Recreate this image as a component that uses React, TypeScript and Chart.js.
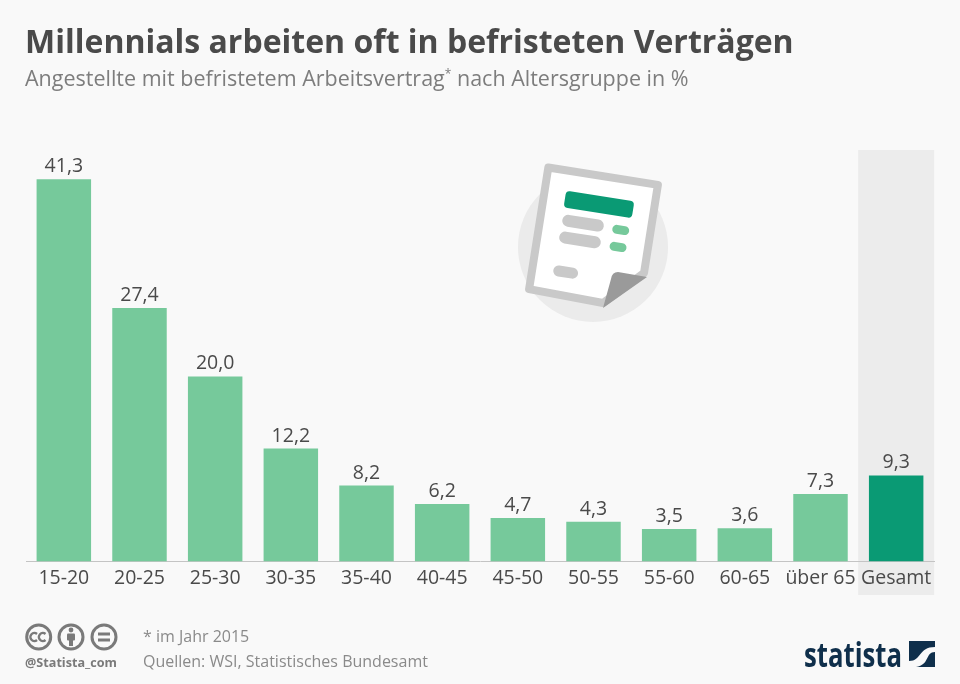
import React, { useEffect, useRef } from "react";
import { Chart, registerables } from "chart.js";

Chart.register(...registerables);

const categories = ["15-20", "20-25", "25-30", "30-35", "35-40", "40-45", "45-50", "50-55", "55-60", "60-65", "über 65", "Gesamt"];
const values = [41.3, 27.4, 20.0, 12.2, 8.2, 6.2, 4.7, 4.3, 3.5, 3.6, 7.3, 9.3];
const barColors = ["#76c99b", "#76c99b", "#76c99b", "#76c99b", "#76c99b", "#76c99b", "#76c99b", "#76c99b", "#76c99b", "#76c99b", "#76c99b", "#0a9a74"];
const titleText = "Millennials arbeiten oft in befristeten Verträgen";
const subtitleText = "Angestellte mit befristetem Arbeitsvertrag";
const subtitleTail = " nach Altersgruppe in %";
const noteText = "* im Jahr 2015";
const sourceText = "Quellen: WSI, Statistisches Bundesamt";
const handleText = "@Statista_com";
const brandText = "statista";
const FONT = '"Open Sans", sans-serif';

const highlight = {
  id: "highlight",
  beforeDraw(chart: any) {
    const { ctx, scales } = chart;
    const last = categories.length - 1;
    const cx = scales.x.getPixelForValue(last);
    ctx.save();
    ctx.fillStyle = "#ececec";
    ctx.fillRect(cx - 38, 150, 76, 445);
    ctx.restore();
  },
};

const valueLabels = {
  id: "valueLabels",
  afterDatasetsDraw(chart: any) {
    const { ctx } = chart;
    const meta = chart.getDatasetMeta(0);
    ctx.save();
    ctx.font = `19.5px ${FONT}`;
    ctx.fillStyle = "#4a4a4a";
    ctx.textAlign = "center";
    ctx.textBaseline = "alphabetic";
    meta.data.forEach((bar: any, i: number) => {
      ctx.fillText(values[i].toFixed(1).replace(".", ","), bar.x, bar.y - 7);
    });
    ctx.restore();
  },
};

function Illustration() {
  return (
    <svg width="960" height="684" style={{ position: "absolute", left: 0, top: 0, zIndex: 2, pointerEvents: "none" }}>
      <circle cx="593" cy="247" r="75" fill="#ebebeb" />
      <path d="M548.3 167.5 L657.9 184.9 L644 273 L603 303 L529.1 289.1 Z" fill="#ffffff" stroke="#c9c9c9" strokeWidth="8" strokeLinejoin="round" />
      <g transform="rotate(9 593.5 237)">
        <rect x="559.3" y="195.5" width="69" height="17" rx="4" fill="#0a9a74" />
        <rect x="560" y="219" width="42" height="12" rx="6" fill="#c9c9c9" />
        <rect x="610.8" y="221.3" width="17" height="9" rx="4.5" fill="#76c99b" />
        <rect x="559.6" y="236" width="42" height="12" rx="6" fill="#c9c9c9" />
        <rect x="610.8" y="238.5" width="17" height="9" rx="4.5" fill="#76c99b" />
        <rect x="559" y="270.5" width="25" height="11" rx="5.5" fill="#c9c9c9" />
      </g>
      <path d="M603 308 L611 279 Q612 272 618 272 L647 277 Z" fill="#9a9a9a" />
      <g fill="none" stroke="#7a7a7a" strokeWidth="3">
        <circle cx="38.7" cy="637" r="12" />
        <circle cx="71" cy="637" r="12" />
        <circle cx="104" cy="637" r="12" />
      </g>
      <g fill="none" stroke="#7a7a7a" strokeWidth="2.4">
        <path d="M37 634 A4 4 0 1 0 37 640" />
        <path d="M45.5 634 A4 4 0 1 0 45.5 640" />
      </g>
      <g fill="#7a7a7a">
        <circle cx="71" cy="630" r="2.4" />
        <rect x="67" y="633.5" width="8" height="7" rx="1" />
        <rect x="69" y="640" width="4" height="6" />
        <rect x="98" y="632.5" width="12" height="3" />
        <rect x="98" y="638.5" width="12" height="3" />
      </g>
      <text x="25" y="667" fontFamily={FONT} fontWeight="700" fontSize="13" fill="#7a7a7a" textLength="92" lengthAdjust="spacingAndGlyphs">{handleText}</text>
      <text x="143" y="642" fontFamily={FONT} fontSize="16" fill="#8a8a8a">{noteText}</text>
      <text x="143" y="667" fontFamily={FONT} fontSize="16" fill="#8a8a8a">{sourceText}</text>
      <text x="804" y="667" fontFamily={FONT} fontWeight="700" fontSize="34" fill="#0f2f4b" textLength="98" lengthAdjust="spacingAndGlyphs">{brandText}</text>
      <rect x="909" y="641" width="26" height="26" fill="#0f2f4b" />
      <path d="M909 667 L909 661 C922 661 918 647 935 647 L935 652 C925 652 930 665 916 667 Z" fill="#f9f9f9" />
    </svg>
  );
}

export default function App() {
  const ref = useRef<HTMLCanvasElement>(null);
  useEffect(() => {
    document.body.style.margin = "0";
    document.body.style.background = "#f9f9f9";
    const chart = new Chart(ref.current!, {
      type: "bar",
      data: {
        labels: categories,
        datasets: [{ data: values, backgroundColor: barColors, categoryPercentage: 1, barPercentage: 0.72 }],
      },
      options: {
        responsive: false,
        animation: false,
        layout: { padding: { left: 26, right: 26, top: 145, bottom: 0 } },
        plugins: { legend: { display: false }, tooltip: { enabled: false } },
        scales: {
          x: {
            afterFit: (s: any) => { s.height = 122.5; },
            grid: { display: false, drawTicks: false },
            border: { display: true, color: "#c4c4c4", width: 1 },
            ticks: { color: "#4a4a4a", font: { family: FONT, size: 19.5 }, padding: 5, maxRotation: 0, autoSkip: false },
          },
          y: { display: false, min: 0, max: 45 },
        },
      },
      plugins: [highlight, valueLabels],
    } as any);
    return () => chart.destroy();
  }, []);
  return (
    <div style={{ position: "relative", width: 960, height: 684, overflow: "hidden", background: "#f9f9f9", fontFamily: FONT }}>
      <canvas ref={ref} width={960} height={684} style={{ position: "absolute", left: 0, top: 0, display: "block" }} />
      <div style={{ position: "absolute", left: 25, top: 19, fontSize: 32, fontWeight: 700, color: "#4a4a4a", lineHeight: "44px", whiteSpace: "nowrap" }}>{titleText}</div>
      <div style={{ position: "absolute", left: 25, top: 63, fontSize: 21.5, color: "#7d7d7d", lineHeight: "30px", whiteSpace: "nowrap" }}>
        {subtitleText}<sup style={{ fontSize: 12, lineHeight: 0 }}>*</sup>{subtitleTail}
      </div>
      <Illustration />
    </div>
  );
}
